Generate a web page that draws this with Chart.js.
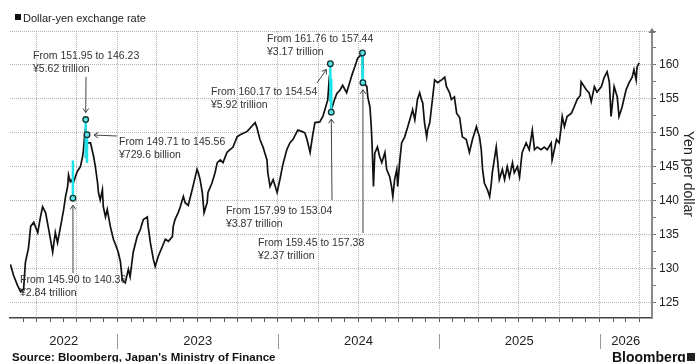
<!DOCTYPE html>
<html>
<head>
<meta charset="utf-8">
<script src="https://cdn.jsdelivr.net/npm/chart.js@4.4.1/dist/chart.umd.min.js"></script>
<style>
  html, body { margin: 0; padding: 0; background: #fff; }
  #wrap { width: 696px; height: 362px; }
</style>
</head>
<body>
<div id="wrap"><canvas id="chart" width="696" height="362"></canvas></div>
<script>
/* DATA */
const dates = [
  '2022-05-03','2022-05-10','2022-05-19','2022-05-26','2022-06-02','2022-06-06','2022-06-13','2022-06-18','2022-06-25',
  '2022-07-04','2022-07-10','2022-07-15','2022-07-22','2022-07-26','2022-08-02','2022-08-07','2022-08-13','2022-08-18',
  '2022-08-25','2022-09-01','2022-09-05','2022-09-10','2022-09-12','2022-09-16','2022-09-20','2022-09-22','2022-09-28',
  '2022-10-02','2022-10-09','2022-10-14','2022-10-16','2022-10-19','2022-10-21','2022-10-25','2022-11-01','2022-11-08',
  '2022-11-12','2022-11-17','2022-11-19','2022-11-23','2022-11-28','2022-11-30','2022-12-05','2022-12-09','2022-12-16',
  '2022-12-23','2022-12-28','2023-01-03','2023-01-08','2023-01-12','2023-01-19','2023-01-26','2023-01-30','2023-02-06',
  '2023-02-15','2023-02-22','2023-03-01','2023-03-10','2023-03-12','2023-03-17','2023-03-24','2023-03-28','2023-04-04',
  '2023-04-13','2023-04-20','2023-04-27','2023-05-06','2023-05-08','2023-05-12','2023-05-19','2023-05-24','2023-05-31',
  '2023-06-04','2023-06-11','2023-06-20','2023-06-27','2023-07-01','2023-07-04','2023-07-08','2023-07-13','2023-07-17',
  '2023-07-24','2023-07-26','2023-08-04','2023-08-11','2023-08-16','2023-08-23','2023-08-29','2023-09-07','2023-09-14',
  '2023-09-21','2023-09-30','2023-10-07','2023-10-23','2023-10-30','2023-11-10','2023-11-14','2023-11-21','2023-11-28',
  '2023-12-07','2023-12-09','2023-12-14','2023-12-21','2023-12-30','2024-01-06','2024-01-12','2024-01-21','2024-01-28',
  '2024-02-04','2024-02-15','2024-02-24','2024-03-02','2024-03-07','2024-03-14','2024-03-20','2024-03-25','2024-04-05',
  '2024-04-12','2024-04-17','2024-04-23','2024-04-26','2024-04-29','2024-05-02','2024-05-09','2024-05-14','2024-05-21',
  '2024-05-27','2024-06-05','2024-06-12','2024-06-17','2024-06-24','2024-06-30','2024-07-05','2024-07-10','2024-07-12',
  '2024-07-21','2024-07-23','2024-07-28','2024-07-31','2024-08-02','2024-08-05','2024-08-08','2024-08-14','2024-08-19',
  '2024-08-24','2024-08-31','2024-09-04','2024-09-11','2024-09-15','2024-09-18','2024-09-22','2024-09-27','2024-09-29',
  '2024-10-04','2024-10-08','2024-10-15','2024-10-22','2024-10-31','2024-11-02','2024-11-07','2024-11-13','2024-11-18',
  '2024-11-22','2024-11-25','2024-11-29','2024-12-04','2024-12-06','2024-12-11','2024-12-17','2024-12-22','2024-12-29',
  '2025-01-07','2025-01-14','2025-01-18','2025-01-25','2025-01-29','2025-02-05','2025-02-10','2025-02-17','2025-02-23',
  '2025-03-04','2025-03-11','2025-03-18','2025-03-27','2025-03-29','2025-04-03','2025-04-07','2025-04-10','2025-04-14',
  '2025-04-21','2025-04-26','2025-04-30','2025-05-02','2025-05-11','2025-05-14','2025-05-18','2025-05-25','2025-05-30',
  '2025-06-05','2025-06-10','2025-06-17','2025-06-21','2025-06-28','2025-07-03','2025-07-07','2025-07-09','2025-07-18',
  '2025-07-25','2025-08-01','2025-08-06','2025-08-12','2025-08-21','2025-08-28','2025-09-04','2025-09-13','2025-09-15',
  '2025-09-25','2025-10-01','2025-10-05','2025-10-08','2025-10-13','2025-10-19','2025-10-29','2025-11-04','2025-11-11',
  '2025-11-18','2025-11-20','2025-12-02','2025-12-08','2025-12-13','2025-12-20','2025-12-26','2026-01-05','2026-01-11',
  '2026-01-18','2026-01-23','2026-01-27','2026-02-03','2026-02-10','2026-02-14','2026-02-21','2026-03-02','2026-03-09',
  '2026-03-16','2026-03-20','2026-03-25','2026-03-27','2026-04-01'
];
const usdJpy = [
  130.6,129.0,127.5,126.6,127.0,130.9,133.0,136.2,136.8,
  135.3,137.5,139.1,138.2,136.8,134.3,132.4,135.3,133.8,
  136.2,138.7,140.5,142.1,143.8,142.8,143.1,142.4,143.6,
  144.3,145.0,146.5,147.5,150.0,150.8,148.5,148.5,146.5,
  145.0,142.6,141.2,140.1,141.6,139.1,137.6,138.7,136.2,
  134.3,133.5,132.4,131.0,128.4,127.9,129.9,128.8,132.4,
  134.7,135.7,137.2,137.6,136.2,133.8,131.3,130.3,131.8,
  133.2,134.3,134.0,134.7,136.2,137.2,138.2,139.1,140.6,
  139.7,139.3,141.6,143.5,144.6,144.1,143.1,141.2,138.2,
  139.7,141.2,142.6,144.1,145.6,146.0,145.6,147.1,147.5,
  147.9,149.4,149.7,150.2,150.7,151.5,150.8,149.0,147.9,
  146.0,144.1,142.1,143.1,141.2,143.3,145.3,147.5,148.5,
  149.0,150.4,150.2,150.0,149.0,147.1,149.7,151.5,151.6,
  152.4,153.5,154.8,157.5,156.2,153.5,155.0,155.8,156.3,
  157.0,155.9,157.4,158.5,159.8,161.0,161.3,161.6,157.6,
  156.8,155.3,153.8,150.9,148.0,142.1,147.0,147.9,146.5,
  145.6,147.1,144.6,143.5,142.1,140.6,143.1,144.6,142.1,
  146.0,148.5,149.4,150.9,152.9,153.4,151.9,154.9,155.9,
  154.9,154.4,151.5,149.4,150.4,151.5,154.9,157.8,157.4,
  157.8,158.2,156.8,155.9,154.9,155.3,152.9,152.2,149.4,
  149.0,147.1,149.0,150.9,150.4,149.4,147.5,144.6,142.6,
  141.6,140.6,142.6,144.1,147.9,146.0,143.1,144.6,143.1,
  145.0,143.5,145.6,144.1,145.0,143.5,146.0,147.1,148.5,
  147.5,150.4,147.5,147.9,147.5,147.9,147.5,148.5,146.0,
  149.0,148.5,150.5,152.4,150.9,152.4,152.9,153.8,154.9,
  155.5,157.5,156.3,155.9,154.6,156.8,156.0,156.8,158.1,
  159.0,157.5,152.4,156.8,155.3,152.4,153.8,156.3,157.4,
  158.2,159.3,157.8,159.7,160.3
];

/* intervention days */
const intDates  = ['2022-09-22','2022-10-21','2022-10-24','2024-04-29','2024-05-01','2024-07-11','2024-07-12'];
const intHigh   = [145.90, 151.95, 149.71, 160.17, 157.99, 161.76, 159.45];
const intLow    = [140.36, 146.23, 145.56, 154.54, 153.04, 157.44, 157.38];
const intAmount = ['¥2.84 trillion','¥5.62 trillion','¥729.6 billion','¥5.92 trillion','¥3.87 trillion','¥3.17 trillion','¥2.37 trillion'];
const intMark   = ['low','high','high','high','low','high','low'];

/* axes */
const yTicks = [125,127.5,130,132.5,135,137.5,140,142.5,145,147.5,150,152.5,155,157.5,160,162.5,165];
const yearLabels = ['2022','2023','2024','2025','2026'];
const xStart = '2022-05-02', xEnd = '2026-04-30';

const FONT = '"Liberation Sans", Arial, sans-serif';
const day = s => Date.parse(s) / 864e5;

/* month ticks (quarter starts get a dotted grid line) */
const monthTicks = [];
for (let yr = 2022; yr <= 2026; yr++) {
  for (let m = 1; m <= 12; m++) {
    const s = `${yr}-${String(m).padStart(2,'0')}-01`;
    if (day(s) > day(xStart) && day(s) < day(xEnd)) monthTicks.push({value: day(s), q: (m - 1) % 3 === 0});
  }
}

/* annotation layout (pixels) */
const notePos = [
  {tx: 20,  ty: 283, from: [73, 273]},
  {tx: 33,  ty: 59,  from: [86, 77]},
  {tx: 119, ty: 145, from: [117, 136]},
  {tx: 211, ty: 95,  from: [317, 83]},
  {tx: 226, ty: 214, from: [332, 200]},
  {tx: 267, ty: 42,  from: null},
  {tx: 258, ty: 246, from: [363, 233]}
];

const lineData = dates.map((d, i) => ({x: day(d), y: usdJpy[i]}));
const barData = [];
intDates.forEach((d, i) => {
  barData.push({x: day(d), y: intHigh[i]}, {x: day(d), y: intLow[i]}, {x: day(d), y: null});
});
const markData = intDates.map((d, i) => ({x: day(d), y: intMark[i] === 'high' ? intHigh[i] : intLow[i]}));

function arrow(ctx, x1, y1, x2, y2) {
  const ang = Math.atan2(y2 - y1, x2 - x1), h = 5;
  ctx.beginPath();
  ctx.moveTo(x1, y1); ctx.lineTo(x2, y2);
  ctx.moveTo(x2 - h * Math.cos(ang - 0.6), y2 - h * Math.sin(ang - 0.6));
  ctx.lineTo(x2, y2);
  ctx.lineTo(x2 - h * Math.cos(ang + 0.6), y2 - h * Math.sin(ang + 0.6));
  ctx.stroke();
}

const decor = {
  id: 'decor',
  afterDatasetsDraw(chart) {
    const {ctx, scales: {x, y}, chartArea: a} = chart;
    ctx.save();

    /* legend */
    ctx.fillStyle = '#111';
    ctx.fillRect(15, 14, 6, 6);
    ctx.font = `11px ${FONT}`;
    ctx.fillStyle = '#222';
    ctx.textAlign = 'left';
    ctx.textBaseline = 'alphabetic';
    ctx.fillText('Dollar-yen exchange rate', 23, 21.5);

    /* notes + arrows */
    ctx.font = `10.5px ${FONT}`;
    notePos.forEach((p, i) => {
      ctx.fillStyle = '#333';
      ctx.fillText(`From ${intHigh[i].toFixed(2)} to ${intLow[i].toFixed(2)}`, p.tx, p.ty);
      ctx.fillText(intAmount[i], p.tx, p.ty + 12.5);
      if (!p.from) return;
      const cx = x.getPixelForValue(markData[i].x), cy = y.getPixelForValue(markData[i].y);
      const dx = cx - p.from[0], dy = cy - p.from[1], len = Math.hypot(dx, dy);
      ctx.strokeStyle = '#444';
      ctx.lineWidth = 1;
      arrow(ctx, p.from[0], p.from[1], cx - dx / len * 7, cy - dy / len * 7);
    });

    /* y axis arrow tip */
    ctx.fillStyle = '#777';
    ctx.beginPath();
    ctx.moveTo(a.right - 3.5, a.top + 2);
    ctx.lineTo(a.right + 3.5, a.top + 2);
    ctx.lineTo(a.right, a.top - 3);
    ctx.fill();

    /* year labels with separators */
    ctx.font = `13px ${FONT}`;
    ctx.fillStyle = '#222';
    ctx.textAlign = 'center';
    ctx.textBaseline = 'middle';
    ctx.strokeStyle = '#999';
    yearLabels.forEach(yl => {
      const s = Math.max(day(yl + '-01-01'), x.min), e = Math.min(day((+yl + 1) + '-01-01'), x.max);
      const xs = x.getPixelForValue(s), xe = x.getPixelForValue(e);
      ctx.fillText(yl, (xs + xe) / 2, 341);
      if (day(yl + '-01-01') > x.min) {
        ctx.beginPath();
        ctx.moveTo(Math.round(xs) + 0.5, 334);
        ctx.lineTo(Math.round(xs) + 0.5, 349);
        ctx.stroke();
      }
    });

    /* axis title */
    ctx.save();
    ctx.translate(688, 174);
    ctx.rotate(Math.PI / 2);
    ctx.font = `14px ${FONT}`;
    ctx.fillStyle = '#222';
    ctx.fillText('Yen per dollar', 0, 0);
    ctx.restore();

    /* footer */
    ctx.textAlign = 'left';
    ctx.textBaseline = 'alphabetic';
    ctx.font = `bold 11.5px ${FONT}`;
    ctx.fillStyle = '#111';
    ctx.fillText("Source: Bloomberg, Japan's Ministry of Finance", 12, 361);
    ctx.font = `bold 14px ${FONT}`;
    ctx.fillText('Bloomberg', 612, 362);
    ctx.fillStyle = '#222';
    ctx.fillRect(687, 353, 8, 8);
    ctx.restore();
  }
};

new Chart(document.getElementById('chart'), {
  type: 'line',
  data: {
    datasets: [
      {data: lineData, borderColor: '#111', borderWidth: 1.7, pointRadius: 0, tension: 0, order: 3},
      {data: barData, borderColor: '#1de2e8', borderWidth: 2.5, pointRadius: 0, spanGaps: false, order: 2},
      {type: 'scatter', data: markData, pointRadius: 2.8, borderWidth: 1.3,
       borderColor: '#12302f', backgroundColor: '#58e6ea', order: 1}
    ]
  },
  options: {
    responsive: false,
    animation: false,
    events: [],
    layout: {padding: {top: 31, left: 10, right: 0, bottom: 0}, autoPadding: false},
    plugins: {legend: {display: false}, tooltip: {enabled: false}},
    scales: {
      x: {
        type: 'linear',
        min: day(xStart), max: day(xEnd),
        afterBuildTicks: s => { s.ticks = monthTicks.map(t => ({value: t.value})); },
        afterFit: s => { s.height = 44; },
        ticks: {display: false, autoSkip: false},
        grid: {
          color: c => (monthTicks[c.index] && monthTicks[c.index].q) ? '#b4b4b4' : 'rgba(0,0,0,0)',
          lineWidth: 1, tickLength: 4, tickColor: '#555', drawTicks: true
        },
        border: {display: true, color: '#444', width: 1.5, dash: [1, 1]}
      },
      y: {
        position: 'right',
        min: 122.7, max: 165,
        afterBuildTicks: s => { s.ticks = yTicks.map(v => ({value: v})); },
        afterFit: s => { s.width = 44; },
        ticks: {
          autoSkip: false, padding: 3, color: '#222',
          font: {family: FONT, size: 12},
          callback: v => (v % 5 === 0 && v <= 160) ? String(v) : ''
        },
        grid: {
          color: c => (c.tick && c.tick.value % 5 === 0) ? '#b4b4b4' : 'rgba(0,0,0,0)',
          lineWidth: 1, tickLength: 4, tickColor: '#777'
        },
        border: {display: true, color: '#8a8a8a', width: 2, dash: [1, 1]}
      }
    }
  },
  plugins: [decor]
});
</script>
</body>
</html>
